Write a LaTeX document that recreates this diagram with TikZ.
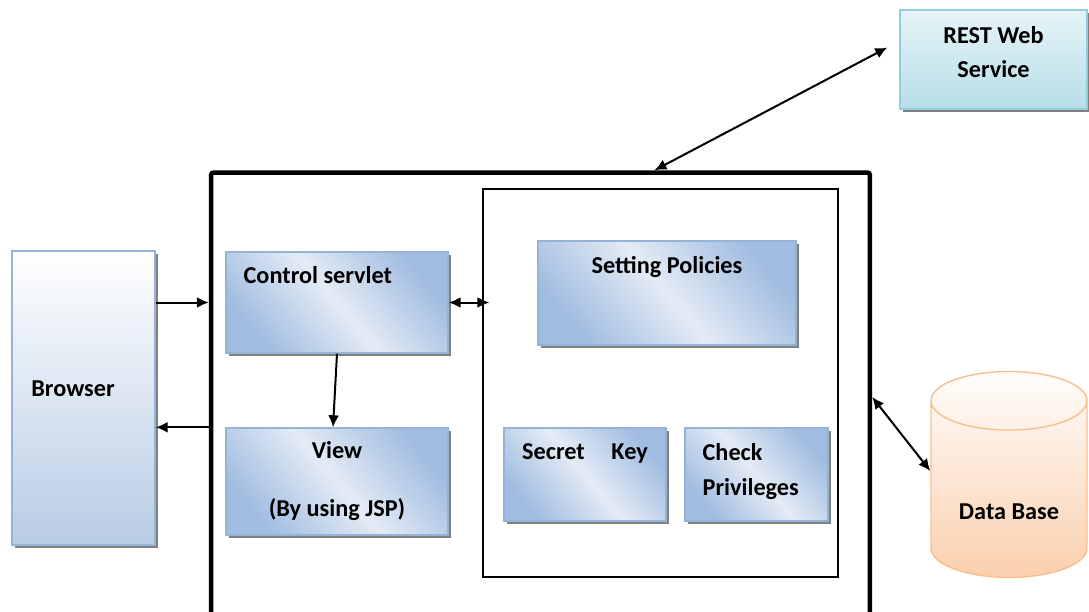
\documentclass[tikz,border=0pt]{standalone}
\usepackage{fontspec}
\setmainfont{Carlito}
\usepackage{tikz}
\usetikzlibrary{shapes.geometric}
\usetikzlibrary{shadows,arrows.meta}
\definecolor{boxedge}{HTML}{95B3D7}
\definecolor{boxdark}{HTML}{A0BCE0}
\definecolor{boxlight}{HTML}{E4EBF5}
\definecolor{browserbottom}{HTML}{B8CCE4}
\definecolor{restedge}{HTML}{92CDDC}
\definecolor{resttop}{HTML}{E6F4F8}
\definecolor{restbottom}{HTML}{B7DEE8}
\definecolor{dbedge}{HTML}{F9BF8F}
\definecolor{dbtop}{HTML}{FFFDFB}
\definecolor{dbbottom}{HTML}{FAD0AE}
\tikzset{
boxtext/.style={font=\fontsize{13.8}{16.5}\selectfont\bfseries, inner sep=0pt},
boxshadow/.style={drop shadow={shadow xshift=0.06cm, shadow yshift=-0.06cm, fill=black!50, opacity=1}},
bluebox/.style={rectangle, draw=boxedge, thick, top color=boxdark, bottom color=boxdark, middle color=boxlight, shading angle=-50, boxshadow, boxtext},
browserbox/.style={rectangle, draw=boxedge, thick, top color=white, bottom color=browserbottom, boxshadow, minimum width=2.86cm, minimum height=5.88cm},
restbox/.style={rectangle, draw=restedge, thick, top color=resttop, bottom color=restbottom, boxshadow, minimum width=3.74cm, minimum height=1.98cm},
dbcylinder/.style={cylinder, shape border rotate=90, aspect=5, draw=dbedge, thick, top color=dbtop, bottom color=dbbottom, minimum width=3.12cm, minimum height=4.12cm},
outerframe/.style={rectangle, draw=black, line width=0.09cm, rounded corners=0.05cm, minimum width=13.18cm, minimum height=9.3cm},
innerframe/.style={rectangle, draw=black, line width=0.03cm, minimum width=7.1cm, minimum height=7.76cm},
conn/.style={black, line width=0.04cm},
}

\begin{document}
\begin{tikzpicture}[x=0.02cm, y=-0.02cm, >={Latex[length=0.24cm,width=0.22cm]}]
\useasboundingbox (0,0) rectangle (1089,612);
% server frames
\node[outerframe] at (540.5,405) (server) {};
\node[innerframe] at (660.5,383) (security) {};

\node[browserbox] at (83.5,398) (browser) [label={[boxtext,xshift=-0.21cm,yshift=0.18cm]center:Browser}] {};
\node[restbox] at (993.5,59.5) (rest) [label={[boxtext,align=center,yshift=0.15cm]center:REST Web\\[0.1cm]Service}] {};
\node[dbcylinder] at (1009,495) (db) [label={[boxtext,yshift=-0.34cm]center:Data Base}] {};

\node[bluebox, minimum width=4.44cm, minimum height=2.02cm] at (337,302.5) (ctrl) [label={[boxtext,anchor=north west,xshift=0.36cm,yshift=-0.3cm]north west:Control servlet}] {};
\node[bluebox, minimum width=4.44cm, minimum height=2.14cm, align=center] at (337,481.5) (view) {View\\[0.58cm](By using JSP)};
\node[bluebox, minimum width=5.16cm, minimum height=2.08cm] at (667,293) (policy) [label={[boxtext,anchor=north,yshift=-0.32cm]north:Setting Policies}] {};
\node[bluebox, minimum width=3.24cm, minimum height=1.86cm] at (585,474.5) (secret) [label={[boxtext,anchor=north,yshift=-0.32cm]north:Secret\hspace{1.1em}Key}] {};
\node[bluebox, minimum width=2.86cm, minimum height=1.86cm] at (756.5,474.5) (check) [label={[boxtext,align=left,anchor=north west,xshift=0.36cm,yshift=-0.32cm]north west:Check\\[0.12cm]Privileges}] {};

% connectors
\draw[conn,->] (browser.east |- ctrl.west) -- (server.west |- ctrl.west);
\draw[conn,->] (server.west |- view.north) -- (browser.east |- view.north);
\draw[conn,<->] (ctrl.east) -- ([xshift=0.14cm]security.west |- ctrl.east);
\draw[conn,->] (ctrl.south) -- ([xshift=-0.08cm]view.north);
\draw[conn,<->] ([xshift=2.28cm]server.north) -- ([xshift=-0.24cm,yshift=0.24cm]rest.west);
\draw[conn,<->] ([yshift=0.16cm]server.east) -- ([yshift=0.48cm]db.180);
\end{tikzpicture}
\end{document}
